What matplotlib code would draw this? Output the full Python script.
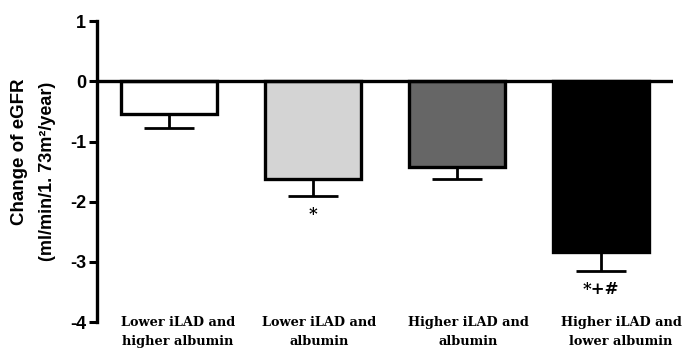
import matplotlib
matplotlib.use("Agg")
import matplotlib.pyplot as plt
import numpy as np

plt.rcParams['axes.unicode_minus'] = False

categories = [("Lower iLAD and", "higher albumin"), ("Lower iLAD and", "albumin"),
              ("Higher iLAD and", "albumin"), ("Higher iLAD and", "lower albumin")]
means = [-0.55, -1.62, -1.42, -2.84]
errors = [0.23, 0.28, 0.21, 0.31]
colors = ["#ffffff", "#d4d4d4", "#666666", "#000000"]
marks = ["", "*", "", "*+#"]
mark_y = [None, -2.22, None, -3.46]
yticks = [1, 0, -1, -2, -3, -4]

fig = plt.figure(figsize=(6.89, 3.51), dpi=100)
ax = fig.add_axes([0.1408, 0.0826, 0.836, 0.857])

x = np.arange(len(categories))
ax.bar(x, means, width=0.67, color=colors, edgecolor="black", linewidth=2.4, zorder=2)
ax.errorbar(x, means, yerr=[errors, [0] * len(errors)], fmt="none", ecolor="black",
            elinewidth=2.0, capsize=18, capthick=2.0, zorder=1)
ax.axhline(0, color="black", linewidth=2.4, zorder=3)

ax.set_xlim(-0.5, 3.5)
ax.set_ylim(-4, 1)
ax.set_yticks(yticks)
ax.set_yticklabels([str(t) for t in yticks], fontsize=13, fontweight="bold",
                   family="Liberation Sans")
ax.tick_params(axis="y", length=6, width=2.2, pad=2)
ax.set_xticks([])
for s in ["top", "right", "bottom"]:
    ax.spines[s].set_visible(False)
ax.spines["left"].set_linewidth(2.4)

label_shift = [0.06, 0.04, 0.08, 0.14]
line_y = [-4.01, -4.32]
for i, lines in enumerate(categories):
    for ly, txt in zip(line_y, lines):
        ax.text(x[i] + label_shift[i], ly, txt, ha="center", va="center", fontsize=9.3,
                fontweight="bold", family="DejaVu Serif", clip_on=False)

for i, m in enumerate(marks):
    if m:
        ax.text(x[i], mark_y[i], m, ha="center", va="center", fontsize=12,
                fontweight="bold", family="DejaVu Serif")

fig.text(20 / 689, 1 - 152 / 351, "Change of eGFR", rotation=90, ha="center", va="center",
         fontsize=13.5, fontweight="bold", family="Liberation Sans")
fig.text(48 / 689, 1 - 171 / 351, "(ml/min/1. 73m\u00b2/year)", rotation=90, ha="center",
         va="center", fontsize=13, fontweight="bold", family="Liberation Sans")

fig.savefig("out.png", dpi=100)
